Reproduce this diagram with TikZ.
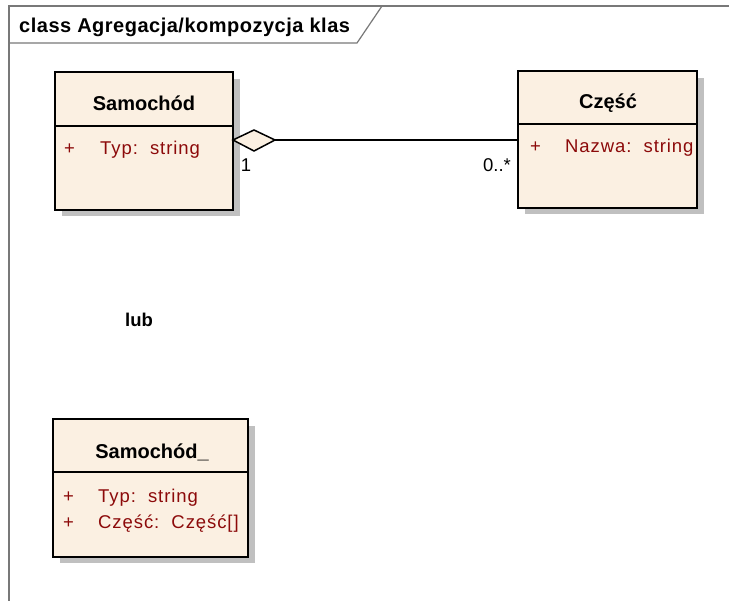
\documentclass[tikz,border=0pt]{standalone}
\usepackage{fontspec}
\setmainfont{Liberation Sans}
\definecolor{boxfill}{RGB}{251,240,226}
\definecolor{attrred}{RGB}{140,10,10}
\definecolor{shadowgray}{RGB}{192,192,192}
\definecolor{framegray}{RGB}{120,120,120}
\tikzset{
  classbox/.style={draw=black, line width=1.8pt, fill=boxfill},
  shadowbox/.style={fill=shadowgray, draw=none},
  divider/.style={draw=black, line width=1.2pt},
  classname/.style={font=\fontsize{20}{23}\selectfont\bfseries, anchor=base, inner sep=0pt},
  attr/.style={font=\fontsize{18.5}{21}\selectfont\addfontfeatures{LetterSpace=5}, text=attrred, anchor=base west, inner sep=0pt},
  mult/.style={font=\fontsize{18.5}{21}\selectfont, anchor=base, inner sep=0pt},
  framel/.style={draw=framegray, line width=1.2pt}
}
\begin{document}
\begin{tikzpicture}[x=1pt,y=-1pt]
\useasboundingbox (0,0) rectangle (729,601);
\fill[white] (0,0) rectangle (729,601);
% frame
\draw[framel] (9,601) -- (9,6) -- (729,6);
\draw[framel] (9,43) -- (357,43) -- (382,6);
\node[font=\fontsize{20}{23}\selectfont\bfseries\addfontfeatures{LetterSpace=2.5}, anchor=base west, inner sep=0pt] (title) at (19,33) {class Agregacja/kompozycja klas};
% Samochod
\fill[shadowbox] (62,79) rectangle (240,216);
\draw[classbox] (55,72) rectangle (233,210);
\draw[divider] (55,126) -- (233,126);
\node[classname] (samname) at (144,111) {Samochód};
\node[attr] (samvis) at (64,155) {+};
\node[attr] (samtyp) at (100,155) {Typ:\ \ string};
\coordinate (samR) at (233,140);
% Czesc
\fill[shadowbox] (525,78) rectangle (704,214);
\draw[classbox] (518,71) rectangle (697,208);
\draw[divider] (518,124) -- (697,124);
\node[classname] (czname) at (608,109) {Część};
\node[attr] (czvis) at (530,153) {+};
\node[attr] (cznaz) at (565,153) {Nazwa:\ \ string};
\coordinate (czL) at (518,140);
% aggregation
\coordinate (dR) at (275,140);
\draw[black, line width=1.5pt, fill=boxfill] (samR) -- (254,130) -- (dR) -- (254,151) -- cycle;
\draw[black, line width=1.5pt] (dR) -- (czL);
\node[mult] (m1) at (246,172) {1};
\node[mult] (m2) at (497,172) {0..*};
% lub
\node[font=\fontsize{18.5}{21}\selectfont\bfseries, anchor=base, inner sep=0pt] (lub) at (139,327) {lub};
% Samochod_
\fill[shadowbox] (60,426) rectangle (255,563);
\draw[classbox] (53,419) rectangle (248,557);
\draw[divider] (53,472) -- (248,472);
\node[classname] (sam2name) at (152,459) {Samochód\_};
\node[attr] (s2v1) at (63,503) {+};
\node[attr] (s2typ) at (98,503) {Typ:\ \ string};
\node[attr] (s2v2) at (63,529) {+};
\node[attr] (s2cz) at (98,529) {Część:\ \ Część[]};
\end{tikzpicture}
\end{document}
